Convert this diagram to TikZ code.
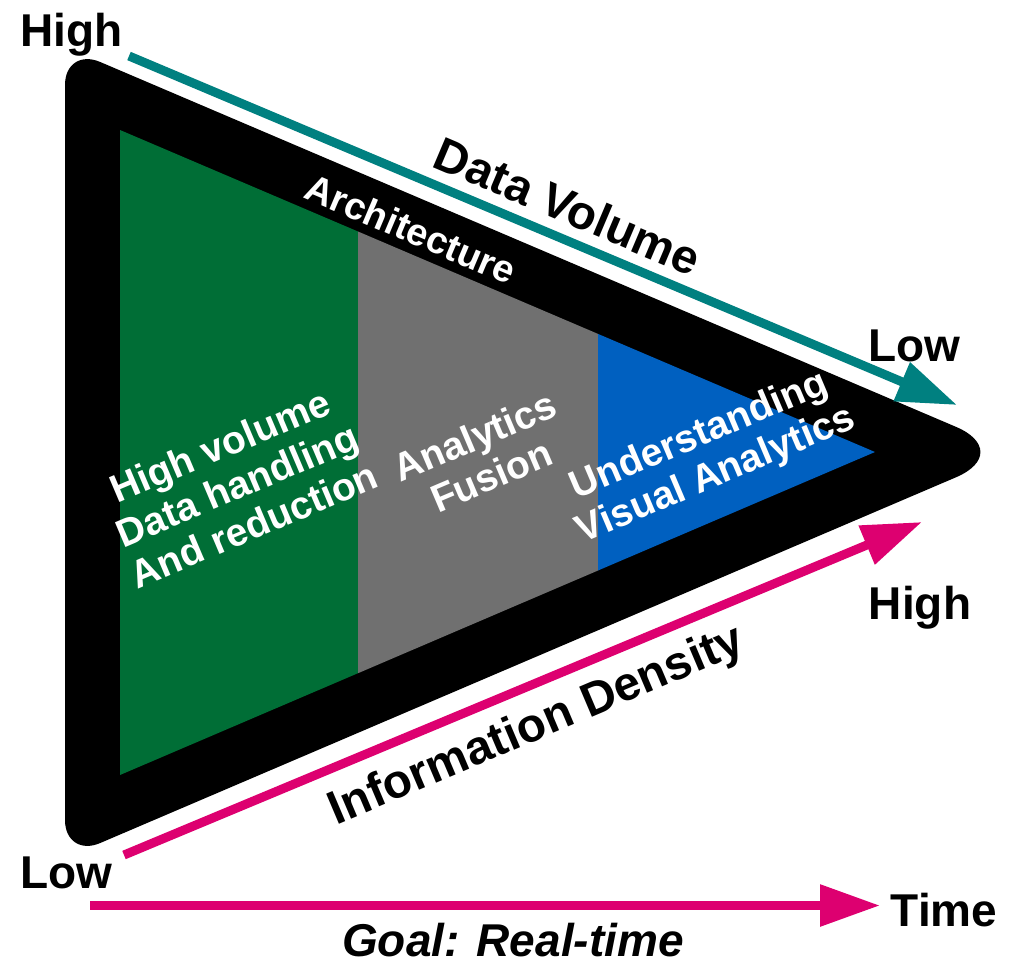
\documentclass[tikz,border=0pt]{standalone}
\usepackage{fontspec}
\setmainfont{Liberation Sans}
\usetikzlibrary{arrows.meta}
\definecolor{dgreen}{RGB}{0,110,54}
\definecolor{mgrey}{RGB}{112,112,112}
\definecolor{mblue}{RGB}{0,96,192}
\definecolor{mteal}{RGB}{0,128,128}
\definecolor{mmag}{RGB}{221,0,112}
\begin{document}
\begin{tikzpicture}[x=1pt,y=-1pt,
  lbl/.style={font=\fontsize{46}{50}\selectfont\bfseries, inner sep=0pt},
  biglbl/.style={font=\fontsize{47.5}{52}\selectfont\bfseries, inner sep=0pt},
  goal/.style={font=\fontsize{46}{50}\selectfont\bfseries\itshape, inner sep=0pt},
  archlbl/.style={font=\fontsize{38}{42}\selectfont\bfseries, text=white, inner sep=0pt},
  inlbl/.style={font=\fontsize{39}{43}\selectfont\bfseries, text=white, align=center, inner sep=0pt, rotate=23},
  arr/.style={line width=9pt, -{Triangle[length=60pt,width=40pt]}},
]
\useasboundingbox (0,0) rectangle (1015,962);
\fill[white] (0,0) rectangle (1015,962);
% black frame
\fill[black] (65,85) .. controls (65,64.1) and (80.75,53.7) .. (100,61.9)
  -- (956.1,426.9) .. controls (988.5,440.7) and (988.5,463.3) .. (956.2,477.2)
  -- (100,843.1) .. controls (80.75,851.3) and (65,840.9) .. (65,820) -- cycle;
% inner bands
\fill[dgreen] (120,130) -- (358,231.5) -- (358,673.2) -- (120,775) -- cycle;
\fill[mgrey] (358,231.5) -- (598,333.9) -- (598,570.5) -- (358,673.2) -- cycle;
\fill[mblue] (598,333.9) -- (875,452) -- (598,570.5) -- cycle;
% arrows
\coordinate (tvS) at (129,56);
\coordinate (tvE) at (957,405);
\coordinate (idS) at (124,855);
\coordinate (idE) at (922,522);
\coordinate (tmS) at (90,905.5);
\coordinate (tmE) at (880,905.5);
\draw[arr, mteal] (tvS) -- (tvE);
\draw[arr, mmag] (idS) -- (idE);
\draw[arr, mmag] (tmS) -- (tmE);
% labels
\node[lbl, anchor=base] (hi1) at (71.5,46) {High};
\node[lbl, anchor=base] (lo1) at (914,361) {Low};
\node[lbl, anchor=base] (hi2) at (920,619) {High};
\node[lbl, anchor=base] (lo2) at (66,888) {Low};
\node[lbl, anchor=base] (time) at (944,926) {Time};
\node[goal, anchor=base] (goal) at (513,956) {Goal: Real-time};
\node[biglbl, rotate=-23] (dv) at (568,206) {Data Volume};
\node[archlbl, rotate=-23] (arch) at (411,229) {Architecture};
\node[biglbl, rotate=23] (id) at (537,727) {Information Density};
\node[inlbl] (g) at (237,485) {High volume\\Data handling\\And reduction};
\node[inlbl] (a) at (483,456) {Analytics\\Fusion};
\node[inlbl] (u) at (708,456) {Understanding\\Visual Analytics};
\end{tikzpicture}
\end{document}
